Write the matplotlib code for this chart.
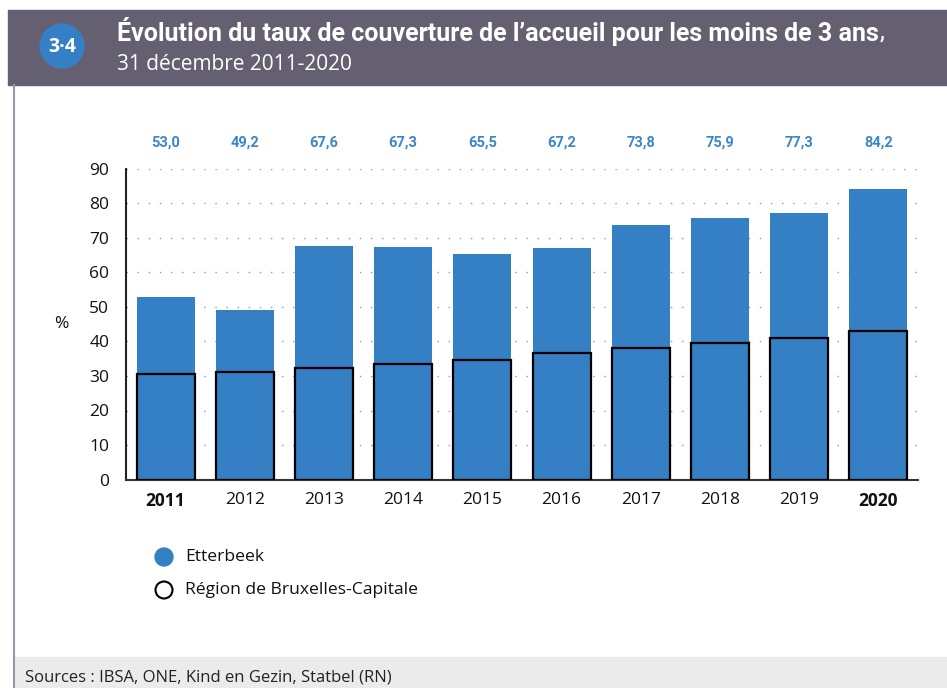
import numpy as np
import matplotlib.pyplot as plt
from matplotlib.patches import Rectangle, Circle

# Données
annees = ["2011", "2012", "2013", "2014", "2015", "2016", "2017", "2018", "2019", "2020"]
etterbeek = [53.0, 49.2, 67.6, 67.3, 65.5, 67.2, 73.8, 75.9, 77.3, 84.2]
region = [30.7, 31.1, 32.3, 33.4, 34.7, 36.7, 38.0, 39.6, 41.1, 43.1]
annees_gras = ["2011", "2020"]

titre = "Évolution du taux de couverture de l’accueil pour les moins de 3 ans"
sous_titre = "31 décembre 2011-2020"
source = "Sources : IBSA, ONE, Kind en Gezin, Statbel (RN)"

bleu = "#3580c4"
bleu_txt = "#3d86c6"
gris_bandeau = "#646072"

plt.rcParams["font.family"] = ["Open Sans", "DejaVu Sans"]

fig = plt.figure(figsize=(9.47, 6.88), dpi=100)
W, H = 947, 688
rend = fig.canvas.get_renderer()

# cadre : bandeau titre, bordure gauche, pied de page
fond = fig.add_axes([0, 0, 1, 1])
fond.set_xlim(0, W)
fond.set_ylim(H, 0)
fond.axis("off")
fond.add_patch(Rectangle((8, 10), W - 8, 75, color=gris_bandeau, zorder=1))
fond.add_patch(Rectangle((14, 657), W - 14, 31, color="#ebebeb", zorder=1))
fond.plot([14, 14], [85, 688], color="#9a98a8", lw=1.5, zorder=2)
fond.add_patch(Circle((62, 46), 22, color=bleu, zorder=3))
fond.text(62, 47, "3·4", color="white", fontsize=14, fontweight="bold",
          ha="center", va="center", zorder=4)

# titre : taille ajustée pour tenir dans la largeur du bandeau (~765 px)
t = fond.text(117, 31, titre, color="white", fontsize=16, fontweight="bold",
              family=["Roboto", "DejaVu Sans"], va="center", zorder=4)
larg = t.get_window_extent(rend).width
t.set_fontsize(min(19, 16 * 763 / larg))
larg = t.get_window_extent(rend).width
fond.text(117 + larg + 1, 31, ",", color="white", fontsize=t.get_fontsize(),
          family=["Roboto", "DejaVu Sans"], va="center", zorder=4)
fond.text(117, 65, sous_titre, color="white", fontsize=15, va="center", zorder=4)
fond.text(25, 677, source, color="#222222", fontsize=12, va="center", zorder=4)

# légende
fond.add_patch(Circle((164, 557), 9, color=bleu, zorder=3))
fond.text(185, 557, "Etterbeek", fontsize=12.6, va="center", color="#111111")
fond.add_patch(Circle((164, 590), 8.5, facecolor="white", edgecolor="black", lw=1.5, zorder=3))
fond.text(185, 590, "Région de Bruxelles-Capitale", fontsize=12.6, va="center", color="#111111")

# graphique
ax = fig.add_axes([126 / W, 1 - 479.5 / H, (918 - 126) / W, (479.5 - 169) / H])
x = np.arange(len(annees))
ax.bar(x, etterbeek, width=0.73, color=bleu, zorder=2)
ax.bar(x, region, width=0.73, facecolor="none", edgecolor="black", linewidth=1.6, zorder=3)

for xi, v in zip(x, etterbeek):
    ax.annotate(f"{v:.1f}".replace(".", ","), (xi, 90), xytext=(0, 19),
                textcoords="offset points", ha="center", va="center",
                color=bleu_txt, fontsize=10.5, fontweight="bold",
                family=["Roboto", "DejaVu Sans"], annotation_clip=False)

ax.set_xlim(-0.5, len(annees) - 0.5)
ax.set_ylim(0, 90)
ax.set_yticks(range(0, 91, 10))
ax.set_xticks(x)
ax.set_xticklabels(annees)
for lab in ax.get_xticklabels():
    if lab.get_text() in annees_gras:
        lab.set_fontweight("bold")
ax.tick_params(axis="both", length=0, labelsize=12.5, colors="#111111")
ax.tick_params(axis="y", pad=12)
ax.tick_params(axis="x", pad=9)
ax.grid(axis="y", linestyle=(0, (1, 7)), color="#999999", linewidth=1, zorder=0)
ax.set_axisbelow(True)
for s in ["top", "right"]:
    ax.spines[s].set_visible(False)
ax.spines["left"].set_color("#222222")
ax.spines["bottom"].set_color("#333333")
ax.spines["left"].set_linewidth(1.5)
ax.spines["bottom"].set_linewidth(1.5)
ax.set_ylabel("%", rotation=0, fontsize=12.5, labelpad=20, va="center", color="#111111")

fig.savefig("out.png", dpi=100)
